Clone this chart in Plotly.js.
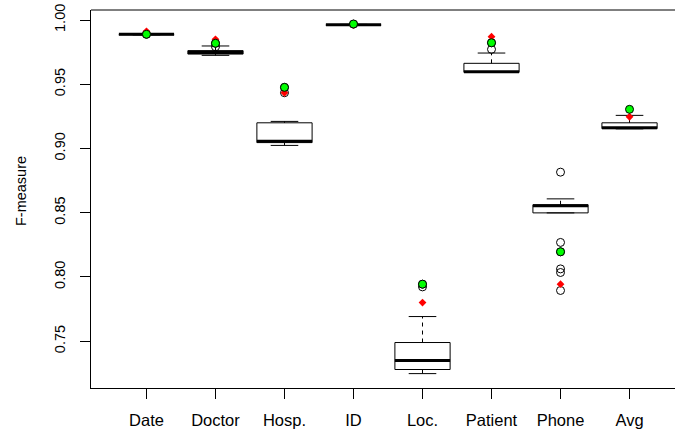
<!DOCTYPE html>
<html><head><meta charset="utf-8">
<script src="https://cdn.plot.ly/plotly-3.0.1.min.js"></script>
<style>html,body{margin:0;padding:0;background:#fff}</style>
</head><body><div id="chart" style="width:675px;height:429px"></div>
<script>
// ---- data ----
const categories   = ['Date','Doctor','Hosp.','ID','Loc.','Patient','Phone','Avg'];
const lowerWhisker = [0.9884, 0.9725, 0.9024, 0.9960, 0.7248, 0.9593, 0.8499, 0.9153];
const q1           = [0.9886, 0.9735, 0.9046, 0.9961, 0.7280, 0.9593, 0.8499, 0.9155];
const median       = [0.9889, 0.9748, 0.9056, 0.9963, 0.7350, 0.9598, 0.8554, 0.9161];
const q3           = [0.9891, 0.9762, 0.9200, 0.9965, 0.7490, 0.9663, 0.8562, 0.9200];
const upperWhisker = [0.9893, 0.9798, 0.9211, 0.9966, 0.7692, 0.9743, 0.8608, 0.9258];
const outlierCat   = ['Date','Doctor','Doctor','Hosp.','Hosp.','ID','Loc.','Loc.','Patient','Patient',
                      'Phone','Phone','Phone','Phone','Phone','Phone'];
const outlierVal   = [0.9889, 0.9792, 0.9819, 0.9476, 0.9434, 0.9968, 0.7944, 0.7923, 0.9772, 0.9823,
                      0.8816, 0.8269, 0.8196, 0.8063, 0.8035, 0.7895];
const greenVal     = [0.9889, 0.9819, 0.9476, 0.9969, 0.7944, 0.9823, 0.8196, 0.9305];
const redVal       = [0.9912, 0.9850, 0.9434, 0.9962, 0.7801, 0.9870, 0.7944, 0.9247];
const yTicks       = [0.75, 0.80, 0.85, 0.90, 0.95, 1.00];

// ---- build geometry from data ----
const pos = categories.map((c, i) => i + 1);
const posOf = c => categories.indexOf(c) + 1;
const HALF = 0.4, CAP = 0.2;

const boxX = [], boxY = [], medX = [], medY = [], whX = [], whY = [], capX = [], capY = [];
pos.forEach((p, i) => {
  boxX.push(p - HALF, p + HALF, p + HALF, p - HALF, p - HALF, null);
  boxY.push(q1[i], q1[i], q3[i], q3[i], q1[i], null);
  medX.push(p - HALF, p + HALF, null);
  medY.push(median[i], median[i], null);
  whX.push(p, p, null, p, p, null);
  whY.push(q3[i], upperWhisker[i], null, q1[i], lowerWhisker[i], null);
  capX.push(p - CAP, p + CAP, null, p - CAP, p + CAP, null);
  capY.push(upperWhisker[i], upperWhisker[i], null, lowerWhisker[i], lowerWhisker[i], null);
});

const traces = [
  {x: whX, y: whY, mode: 'lines', line: {color: '#000', width: 1, dash: '4px,4px'}, hoverinfo: 'skip'},
  {x: capX, y: capY, mode: 'lines', line: {color: '#000', width: 1}, hoverinfo: 'skip'},
  {x: boxX, y: boxY, mode: 'lines', fill: 'none', line: {color: '#000', width: 1}, hoverinfo: 'skip'},
  {x: medX, y: medY, mode: 'lines', line: {color: '#000', width: 3}, hoverinfo: 'skip'},
  {x: outlierCat.map(posOf), y: outlierVal, mode: 'markers',
   marker: {symbol: 'circle-open', size: 8, color: '#000', line: {width: 1, color: '#000'}}},
  {x: pos, y: redVal, mode: 'markers',
   marker: {symbol: 'diamond', size: 6, color: '#FF0000', line: {width: 0}}},
  {x: pos, y: greenVal, mode: 'markers',
   marker: {symbol: 'circle', size: 8, color: '#00FF00', line: {width: 1, color: '#000'}}}
];

const fam = 'Liberation Sans, Arial, sans-serif';
const layout = {
  width: 675, height: 429,
  margin: {l: 91, r: 0, t: 10, b: 41, pad: 0},
  paper_bgcolor: '#fff', plot_bgcolor: '#fff',
  showlegend: false,
  font: {family: fam, size: 15, color: '#000'},
  xaxis: {
    range: [0.196, 8.659], tickmode: 'array', tickvals: pos, ticktext: categories,
    showgrid: false, zeroline: false, showline: true, linecolor: '#000', linewidth: 1,
    ticks: 'outside', ticklen: 10, tickcolor: '#000', tickwidth: 1,
    ticklabelstandoff: 7, tickfont: {family: fam, size: 16.5, color: '#000'}
  },
  yaxis: {
    range: [0.7136, 1.0078], tickmode: 'array', tickvals: yTicks,
    ticktext: yTicks.map(v => v.toFixed(2)), tickangle: -90,
    showgrid: false, zeroline: false, showline: true, linecolor: '#000', linewidth: 1,
    ticks: 'outside', ticklen: 10, tickcolor: '#000', tickwidth: 1,
    ticklabelstandoff: 9, tickfont: {family: fam, size: 14.5, color: '#000'}
  },
  shapes: [{type: 'line', xref: 'paper', yref: 'paper', x0: 0, x1: 1, y0: 1, y1: 1,
            line: {color: '#000', width: 1}}],
  annotations: [{text: 'F-measure', xref: 'paper', yref: 'paper', x: -0.121, y: 0.522,
                 xanchor: 'center', yanchor: 'middle', textangle: -90, showarrow: false,
                 font: {family: fam, size: 14.5, color: '#000'}}]
};

Plotly.newPlot('chart', traces, layout, {displayModeBar: false, staticPlot: true});
</script>
</body></html>
